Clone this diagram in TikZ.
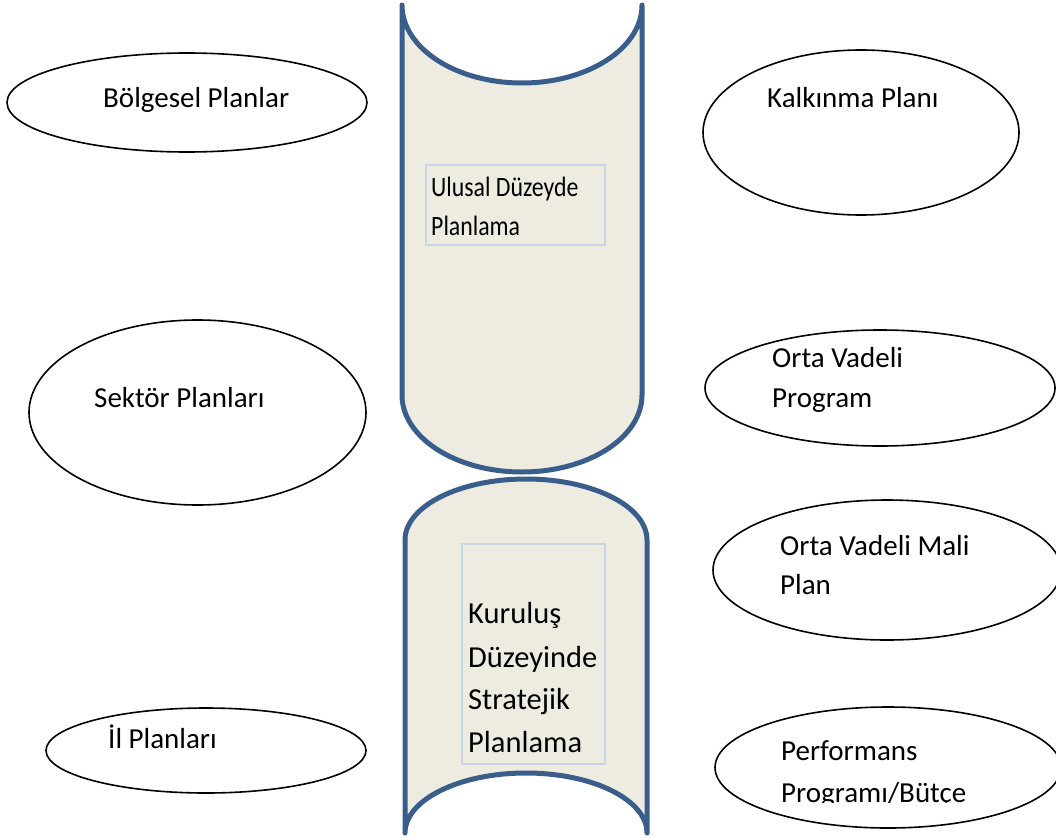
\documentclass[tikz,border=0pt]{standalone}
\usepackage{fontspec}
\usepackage{graphicx}
\setmainfont{Carlito}
\usetikzlibrary{shapes.geometric}

\definecolor{canfill}{HTML}{EEECE1}
\definecolor{canline}{HTML}{3A5E8C}
\definecolor{boxline}{HTML}{C9D4E5}

\tikzset{
  can/.style={draw=canline, fill=canfill, line width=5pt, line cap=round, line join=round},
  oval/.style={ellipse, draw=black, line width=1.6pt, inner sep=0pt},
  lbl/.style={anchor=base west, inner sep=0pt, font=\fontsize{29}{35}\selectfont},
  boxlbl/.style={anchor=base west, inner sep=0pt, font=\fontsize{30.5}{36}\selectfont},
  narrowlbl/.style={anchor=base west, inner sep=0pt, font=\fontsize{28}{34}\selectfont},
  textframe/.style={draw=boxline, line width=2pt}
}

\begin{document}
\begin{tikzpicture}[x=1pt,y=1pt]
\useasboundingbox (0,0) rectangle (1056,-837);

% upper can: national level planning
\draw[can] (402,-5) -- (402,-395)
  arc[start angle=180, end angle=360, x radius=120, y radius=77]
  -- (642,-5)
  arc[start angle=0, end angle=-180, x radius=120, y radius=78] -- cycle;

% lower can: institutional strategic planning
\draw[can] (405,-833) -- (405,-540)
  arc[start angle=180, end angle=0, x radius=121, y radius=61]
  -- (647,-833)
  arc[start angle=0, end angle=180, x radius=121, y radius=60] -- cycle;

% text frames inside the cans
\node[textframe, minimum width=179pt, minimum height=80pt] (ulusalbox) at (515.5,-205) {};
\node[narrowlbl] (ulusal1) at (431,-196) {\scalebox{0.85}[1]{Ulusal Düzeyde}};
\node[narrowlbl] (ulusal2) at (431,-235) {\scalebox{0.85}[1]{Planlama}};

\node[textframe, minimum width=143pt, minimum height=220pt] (kurulusbox) at (533.5,-654) {};
\node[boxlbl] (kurulus1) at (468,-623) {Kuruluş};
\node[boxlbl] (kurulus2) at (468,-667) {Düzeyinde};
\node[boxlbl] (kurulus3) at (468,-709) {Stratejik};
\node[boxlbl] (kurulus4) at (468,-752) {Planlama};

% left-hand plans
\node[oval, minimum width=360pt, minimum height=99pt] (bolgesel) at (187,-102.5) {};
\node[lbl] (bolgeseltxt) at (103,-108) {Bölgesel Planlar};

\node[oval, minimum width=337pt, minimum height=185pt] (sektor) at (197.5,-412.5) {};
\node[lbl] (sektortxt) at (94,-407) {Sektör Planları};

\node[oval, minimum width=320pt, minimum height=85pt] (il) at (206,-750.5) {};
\node[lbl] (iltxt) at (108,-748) {İl Planları};

% right-hand plans
\node[oval, minimum width=316pt, minimum height=165pt] (kalkinma) at (861,-132.5) {};
\node[lbl] (kalkinmatxt) at (767,-108) {Kalkınma Planı};

\node[oval, minimum width=350pt, minimum height=116pt] (ovp) at (880,-388) {};
\node[lbl] (ovp1) at (772,-367) {Orta Vadeli};
\node[lbl] (ovp2) at (772,-407) {Program};

\node[oval, minimum width=348pt, minimum height=140pt] (ovmp) at (887,-570) {};
\node[lbl] (ovmp1) at (780,-555) {Orta Vadeli Mali};
\node[lbl] (ovmp2) at (780,-594) {Plan};

\node[oval, minimum width=346pt, minimum height=121pt] (perf) at (888,-767.5) {};
\begin{scope}
  \clip (700,-700) rectangle (1056,-802);
  \node[lbl] (perf1) at (781,-760) {Performans};
  \node[lbl] (perf2) at (781,-802) {Programı/Bütçe};
\end{scope}
\end{tikzpicture}
\end{document}
